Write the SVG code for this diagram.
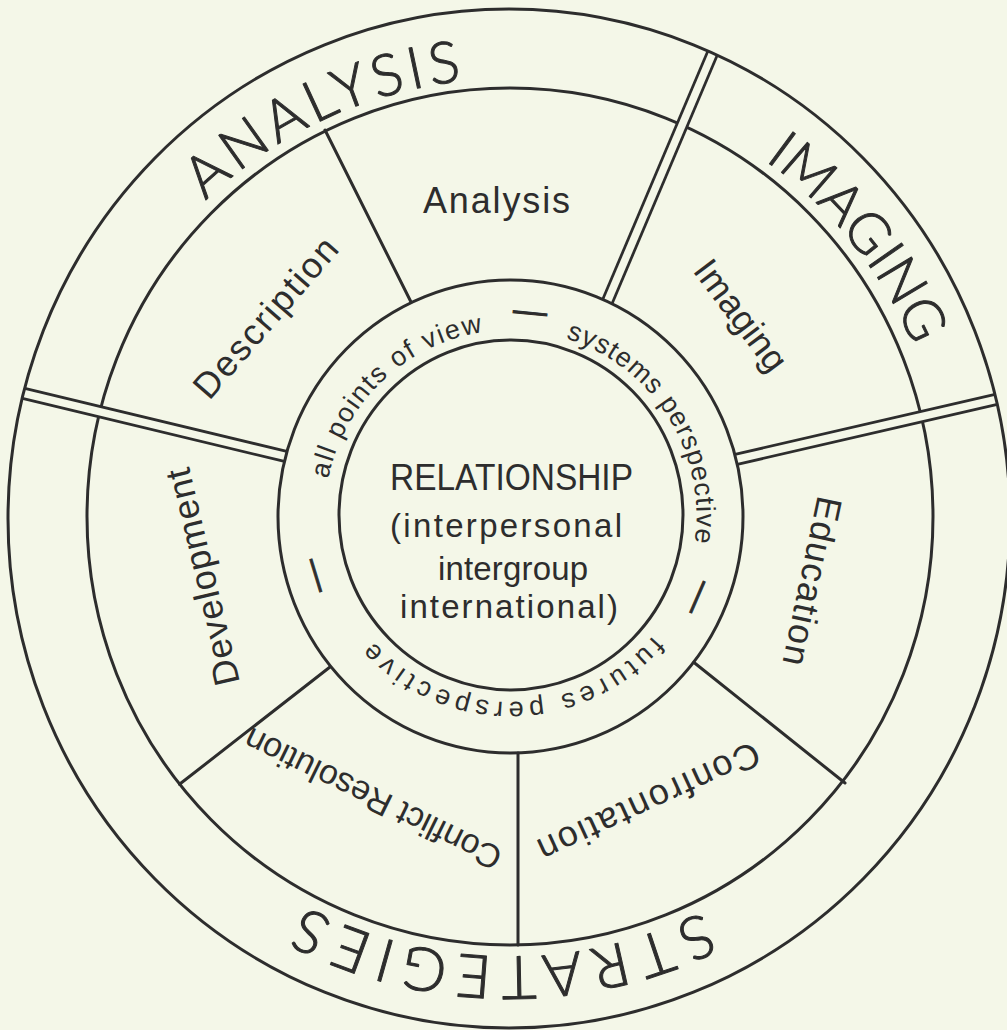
<svg xmlns="http://www.w3.org/2000/svg" width="1007" height="1030" viewBox="0 0 1007 1030">
  <style>
    .ln { fill: none; stroke: #2d2d2d; stroke-width: 3; stroke-linecap: round; }
    .strip { fill: none; stroke: #2d2d2d; stroke-width: 13; stroke-linecap: butt; }
    .strip-gap { fill: none; stroke: #f4f7e8; stroke-width: 7.5; stroke-linecap: butt; }
    text { font-family: "Liberation Sans", Arial, sans-serif; fill: #2d2d2d; text-anchor: middle; }
    .big { font-family: "Lato", "Open Sans", "Liberation Sans", sans-serif; font-weight: 300; font-size: 58px; stroke: #2d2d2d; stroke-width: 1; stroke-linejoin: round; }
    .mid { font-size: 36px; }
    .ring { font-size: 27px; text-anchor: start; }
    .dash { font-size: 34px; stroke: #2d2d2d; stroke-width: 0.9; }
    .core { font-size: 33px; }
  </style>
  <defs>
    <!-- clockwise guide circles, starting at the left-most point -->
    <path id="outerArc" d="M 70.5,517.5 A 439,439 0 1,1 948.5,517.5 A 439,439 0 1,1 70.5,517.5"/>
    <path id="ringArc" d="M 324.5,516 A 186,186 0 1,1 696.5,516 A 186,186 0 1,1 324.5,516"/>
    <path id="dashArc" d="M 315.5,516 A 195,195 0 1,1 705.5,516 A 195,195 0 1,1 315.5,516"/>
  </defs>

  <rect width="1007" height="1030" fill="#f4f7e8"/>

  <!-- boundary between the outer band and the segment ring -->
  <g id="ring-middle">
    <ellipse class="ln" cx="510" cy="516.5" rx="423" ry="428.5"/>
  </g>

  <g id="connectors">
    <!-- double dividers: separate the three outer bands -->
    <g id="divider-top-right">
      <line class="strip" x1="607.4" y1="301.5" x2="712.6" y2="53"/>
      <line class="strip-gap" x1="607.4" y1="301.5" x2="712.6" y2="53"/>
    </g>
    <g id="divider-right">
      <line class="strip" x1="736.2" y1="459.4" x2="996.2" y2="399.4"/>
      <line class="strip-gap" x1="736.2" y1="459.4" x2="996.2" y2="399.4"/>
    </g>
    <g id="divider-left">
      <line class="strip" x1="23.6" y1="393.4" x2="285.6" y2="456.4"/>
      <line class="strip-gap" x1="23.6" y1="393.4" x2="285.6" y2="456.4"/>
    </g>
    <!-- single dividers inside the segment ring -->
    <line class="ln" x1="325" y1="130" x2="411" y2="302"/>
    <line class="ln" x1="694" y1="662.5" x2="845" y2="783"/>
    <line class="ln" x1="518" y1="753" x2="518" y2="945"/>
    <line class="ln" x1="330" y1="667" x2="179.5" y2="784.3"/>
  </g>

  <g id="ring-bounds">
    <ellipse class="ln" cx="509" cy="518.5" rx="501" ry="509.5"/>
    <ellipse class="ln" cx="510.5" cy="516.5" rx="232.5" ry="236.5"/>
    <ellipse class="ln" cx="511" cy="515" rx="172" ry="175"/>
  </g>

  <!-- outer bands -->
  <g id="band-analysis">
    <text class="big"><textPath href="#outerArc" startOffset="497.6" textLength="288" lengthAdjust="spacing">ANALYSIS</textPath></text>
  </g>
  <g id="band-imaging">
    <text class="big" style="font-size:56px"><textPath href="#outerArc" startOffset="1082.3" textLength="241" lengthAdjust="spacing">IMAGING</textPath></text>
  </g>
  <g id="band-strategies">
    <text class="big" style="font-size:60px"><textPath href="#outerArc" startOffset="2074.4" textLength="413" lengthAdjust="spacing">STRATEGIES</textPath></text>
  </g>

  <!-- segment ring -->
  <g id="seg-description" transform="translate(266.5,318.5) rotate(-49)">
    <text class="mid" y="11" textLength="200" lengthAdjust="spacing">Description</text>
  </g>
  <g id="seg-analysis">
    <text class="mid" x="496.5" y="213" textLength="147" lengthAdjust="spacing">Analysis</text>
  </g>
  <g id="seg-imaging" transform="translate(740,316) rotate(53)">
    <text class="mid" y="11" textLength="130" lengthAdjust="spacing">Imaging</text>
  </g>
  <g id="seg-education" transform="translate(811,581) rotate(102)">
    <text class="mid" y="11" textLength="172" lengthAdjust="spacing">Education</text>
  </g>
  <g id="seg-confrontation" transform="translate(648.5,801) rotate(155.3)">
    <text class="mid" y="11" textLength="240" lengthAdjust="spacing">Confrontation</text>
  </g>
  <g id="seg-conflict-resolution" transform="translate(373.5,797.5) rotate(-154)">
    <text class="mid" style="font-size:34px" y="10" textLength="282" lengthAdjust="spacing">Conflict Resolution</text>
  </g>
  <g id="seg-development" transform="translate(203.7,576.7) rotate(-103.3)">
    <text class="mid" y="11" textLength="222" lengthAdjust="spacing">Development</text>
  </g>

  <!-- perspective ring: short runs placed along the circle -->
  <g id="perspectives">
    <text class="ring" letter-spacing="1.7"><textPath href="#ringArc" startOffset="37.2">all points</textPath></text>
    <text class="ring" letter-spacing="1.7"><textPath href="#ringArc" startOffset="169.9">of view</textPath></text>
    <text class="ring" letter-spacing="1.0"><textPath href="#ringArc" startOffset="348.2">systems</textPath></text>
    <text class="ring" letter-spacing="1.0"><textPath href="#ringArc" startOffset="462.7">perspective</textPath></text>
    <text class="ring" letter-spacing="4.9"><textPath href="#ringArc" startOffset="714.1">futures</textPath></text>
    <text class="ring" letter-spacing="4.9"><textPath href="#ringArc" startOffset="843.3">perspective</textPath></text>
    <text class="dash"><textPath href="#dashArc" startOffset="324.9">—</textPath></text>
    <text class="dash"><textPath href="#dashArc" startOffset="692.3">—</textPath></text>
    <text class="dash"><textPath href="#dashArc" startOffset="1167">—</textPath></text>
  </g>

  <!-- core -->
  <g id="core-relationship">
    <text style="font-size:37px" x="511.5" y="490" textLength="243" lengthAdjust="spacingAndGlyphs">RELATIONSHIP</text>
    <text class="core" x="506" y="537" textLength="232" lengthAdjust="spacing">(interpersonal</text>
    <text class="core" x="513" y="580" textLength="150" lengthAdjust="spacing">intergroup</text>
    <text class="core" x="509" y="618" textLength="218" lengthAdjust="spacing">international)</text>
  </g>
</svg>
